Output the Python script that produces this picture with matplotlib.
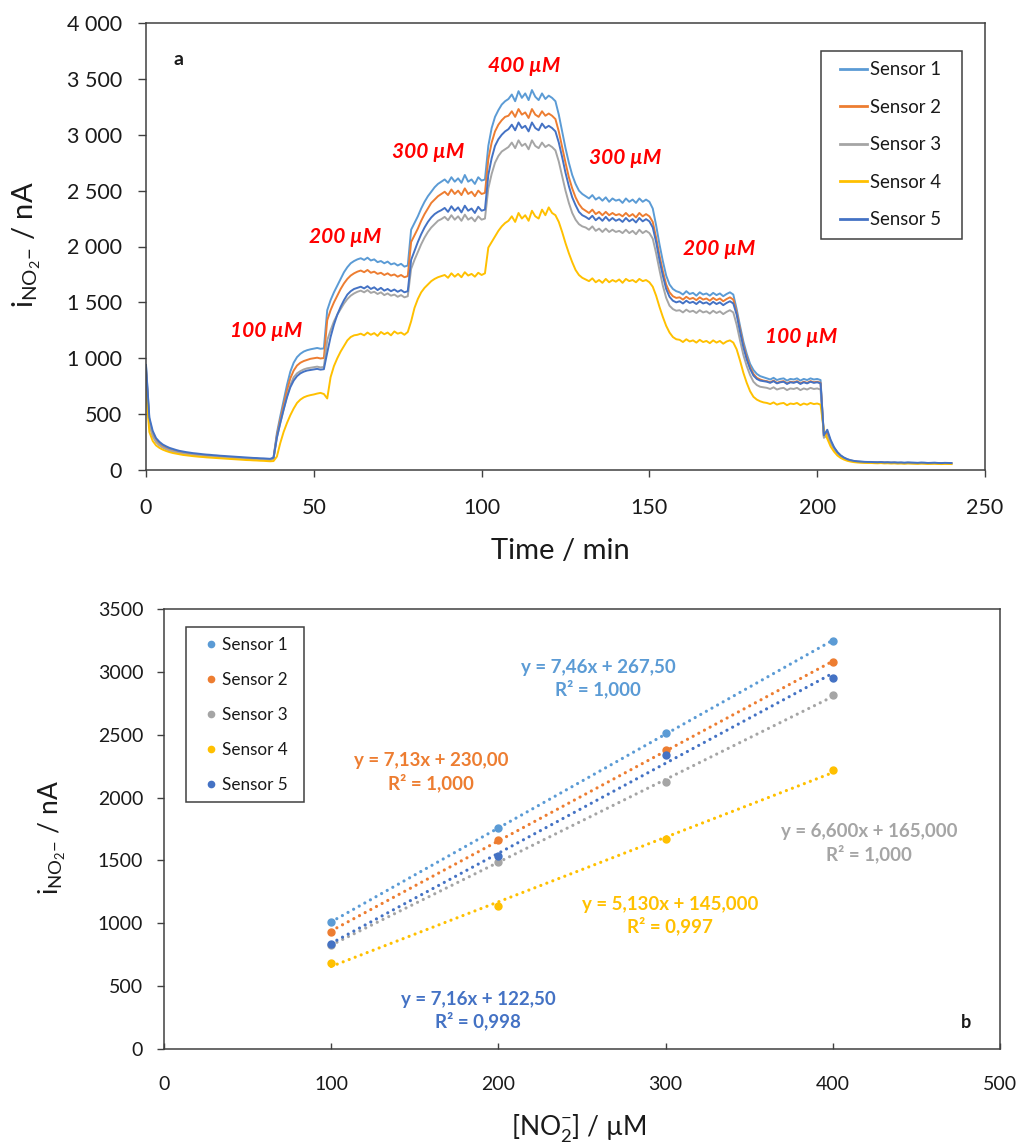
import numpy as np
import matplotlib
matplotlib.use("Agg")
import matplotlib.pyplot as plt
from matplotlib.patches import Rectangle
from matplotlib.ticker import FuncFormatter, MultipleLocator

plt.rcParams['font.family'] = ['Lato', 'DejaVu Sans']
plt.rcParams['mathtext.fontset'] = 'custom'
plt.rcParams['mathtext.rm'] = 'Lato'
plt.rcParams['mathtext.it'] = 'Lato:italic'
plt.rcParams['mathtext.bf'] = 'Lato:bold'

# ---------------- DATA (panel a) ----------------
SENSORS = ["Sensor 1", "Sensor 2", "Sensor 3", "Sensor 4", "Sensor 5"]
COLORS = ["#5B9BD5", "#ED7D31", "#A5A5A5", "#FFC000", "#4472C4"]

TIME_MIN = list(range(0, 241))

S1 = [930, 450, 330, 270, 238, 215, 200, 186, 176, 168,
      160, 155, 150, 146, 142, 139, 136, 133, 131, 128,
      126, 124, 121, 119, 117, 115, 113, 111, 109, 107,
      105, 104, 102, 100, 99, 97, 96, 95,
      110, 330, 480, 620, 760, 880, 960, 1010, 1040, 1060,
      1072, 1080, 1086, 1092, 1085, 1088,
      1430, 1520, 1590, 1650, 1710, 1770, 1815, 1850, 1870, 1885,
      1895, 1880, 1900, 1875, 1885, 1860, 1870, 1850, 1865, 1840, 1850, 1830, 1845, 1820, 1830,
      2150, 2210, 2270, 2340, 2400, 2450, 2490, 2530, 2560, 2580,
      2600, 2570, 2620, 2580, 2610, 2570, 2640, 2580, 2600, 2560, 2620, 2590, 2600,
      2900, 3060, 3160, 3220, 3270, 3300,
      3320, 3360, 3300, 3390, 3330, 3370, 3310, 3400, 3340, 3310, 3370, 3320, 3350, 3330,
      3300, 3180, 3030, 2880, 2750, 2640, 2560, 2500, 2470,
      2450, 2430, 2460, 2420, 2440, 2410, 2440, 2400, 2430, 2410, 2420, 2390, 2430, 2400, 2420, 2390, 2430, 2400, 2420, 2400,
      2340, 2190, 2020, 1870, 1740, 1660, 1620, 1600,
      1590, 1570, 1600, 1575, 1585, 1560, 1590, 1570, 1580, 1560, 1585, 1565, 1580, 1555, 1575, 1590, 1570,
      1440, 1290, 1150, 1040, 950, 895, 860, 840, 830,
      820, 810, 825, 805, 815, 820, 800, 815, 810, 820, 800, 815, 805, 820, 810, 815, 805,
      290, 340, 260, 200, 160, 130, 110, 96, 86, 80,
      76, 74, 72, 70, 71, 69, 68, 70, 67, 68, 66, 67, 65, 66, 64, 66, 65, 64, 63, 65, 64, 62, 63, 64, 62, 61, 63, 62, 61]

S2 = [900, 420, 310, 255, 225, 205, 190, 177, 168, 160,
      153, 148, 143, 139, 135, 132, 129, 126, 124, 121,
      119, 117, 115, 113, 111, 109, 107, 105, 103, 101,
      99, 98, 96, 95, 93, 92, 91, 90,
      105, 310, 450, 580, 710, 820, 890, 935, 960, 975,
      985, 995, 1000, 1005, 998, 1002,
      1340, 1430, 1500, 1560, 1620, 1670, 1710, 1740, 1760, 1775,
      1785, 1770, 1790, 1765, 1775, 1755, 1765, 1745, 1760, 1740, 1750, 1730, 1745, 1725, 1735,
      2040, 2100, 2160, 2230, 2290, 2340, 2390, 2420, 2450, 2470,
      2490, 2460, 2510, 2470, 2500, 2460, 2520, 2470, 2490, 2450, 2500, 2470, 2480,
      2780, 2930, 3030, 3090, 3130, 3160,
      3170, 3210, 3160, 3230, 3180, 3200, 3150, 3230, 3180, 3160, 3210, 3170, 3190, 3170,
      3140, 3030, 2890, 2750, 2620, 2520, 2440, 2380, 2340,
      2320, 2300, 2330, 2290, 2310, 2280, 2310, 2280, 2300, 2280, 2290, 2270, 2300, 2270, 2290, 2260, 2300, 2270, 2290, 2270,
      2220, 2080, 1920, 1780, 1660, 1590, 1555, 1540,
      1545, 1525, 1550, 1530, 1540, 1520, 1545, 1525, 1535, 1515, 1540, 1520, 1535, 1510, 1530, 1545, 1525,
      1410, 1260, 1120, 1010, 920, 860, 825, 810, 800,
      795, 785, 800, 780, 790, 795, 775, 790, 785, 795, 775, 790, 780, 795, 785, 790, 780,
      300, 330, 250, 195, 155, 125, 105, 92, 84, 78,
      74, 72, 70, 69, 69, 67, 66, 68, 65, 66, 64, 65, 63, 64, 62, 64, 63, 62, 61, 63, 62, 60, 61, 62, 60, 59, 61, 60, 59]

S3 = [880, 410, 300, 250, 220, 200, 186, 174, 165, 157,
      150, 145, 140, 136, 133, 130, 127, 124, 122, 119,
      117, 115, 113, 111, 109, 107, 105, 103, 101, 99,
      97, 96, 94, 93, 91, 90, 89, 88,
      100, 290, 420, 540, 660, 760, 830, 865, 885, 900,
      910, 915, 920, 925, 918, 922,
      1160, 1250, 1330, 1390, 1440, 1490, 1530, 1560, 1580, 1595,
      1605, 1590, 1610, 1585, 1595, 1575, 1590, 1565, 1580, 1560, 1570, 1550, 1565, 1545, 1555,
      1800, 1880, 1950, 2020, 2080, 2130, 2170, 2200, 2230, 2245,
      2265, 2235, 2280, 2240, 2270, 2230, 2285, 2240, 2260, 2225, 2270, 2240, 2250,
      2520, 2650, 2750, 2810, 2850, 2870,
      2890, 2930, 2880, 2950, 2900, 2920, 2870, 2950, 2900, 2880, 2930, 2890, 2910, 2890,
      2860, 2760, 2630, 2500, 2390, 2300, 2240, 2200, 2180,
      2170, 2150, 2180, 2140, 2160, 2130, 2160, 2130, 2150, 2130, 2140, 2120, 2150, 2120, 2140, 2110, 2150, 2120, 2140, 2120,
      2070, 1940, 1790, 1650, 1540, 1470, 1440, 1425,
      1430, 1410, 1435, 1415, 1425, 1405, 1430, 1410, 1420, 1400, 1425, 1405, 1420, 1395, 1415, 1430, 1410,
      1300, 1160, 1030, 930, 850, 790, 760, 745, 740,
      735, 725, 740, 720, 730, 735, 715, 730, 725, 735, 715, 730, 720, 735, 725, 730, 720,
      290, 310, 240, 190, 150, 122, 103, 90, 82, 76,
      72, 70, 68, 67, 67, 65, 64, 66, 63, 64, 62, 63, 61, 62, 60, 62, 61, 60, 59, 61, 60, 58, 59, 60, 58, 57, 59, 58, 57]

S4 = [700, 340, 260, 220, 198, 182, 170, 160, 152, 146,
      140, 135, 131, 127, 124, 121, 118, 116, 113, 111,
      109, 107, 105, 103, 101, 99, 97, 95, 93, 91,
      89, 88, 86, 85, 83, 82, 80, 78,
      80, 120, 240, 340, 420, 490, 550, 600, 630, 650,
      662, 670, 676, 684, 690, 680,
      640, 830, 930, 1000, 1060, 1110, 1160, 1190, 1205, 1210,
      1220, 1205, 1230, 1210, 1225, 1200, 1235, 1215, 1230, 1205, 1240, 1220, 1230, 1210, 1235,
      1330, 1450, 1530, 1590, 1630, 1660, 1690, 1710, 1725, 1735,
      1745, 1720, 1760, 1730, 1755, 1725, 1770, 1740, 1755, 1730, 1765, 1745, 1760,
      1990, 2040, 2090, 2140, 2180, 2210,
      2230, 2270, 2220, 2300, 2250, 2280, 2230, 2320, 2270, 2250, 2330, 2280, 2350, 2300,
      2280, 2220, 2130, 2030, 1940, 1860, 1790, 1745, 1720,
      1705, 1690, 1715, 1680, 1700, 1675, 1710, 1680, 1700, 1685, 1705, 1675, 1710, 1690, 1700, 1680, 1710, 1690, 1700, 1680,
      1640, 1560, 1460, 1370, 1290, 1230, 1190, 1170,
      1165, 1145, 1170, 1150, 1160, 1140, 1165, 1145, 1155, 1135, 1160, 1140, 1155, 1130, 1150, 1160, 1140,
      1080, 980, 870, 780, 705, 655, 630, 615, 605,
      600, 590, 605, 585, 595, 600, 580, 595, 590, 600, 580, 595, 585, 600, 590, 595, 585,
      350, 280, 210, 165, 130, 108, 93, 82, 75, 70,
      67, 65, 64, 63, 63, 61, 60, 62, 59, 60, 58, 59, 57, 58, 56, 58, 57, 56, 55, 57, 56, 54, 55, 56, 54, 53, 55, 54, 53]

S5 = [940, 470, 350, 285, 252, 228, 212, 198, 188, 179,
      171, 165, 160, 155, 151, 148, 144, 141, 138, 136,
      133, 131, 128, 126, 124, 122, 120, 118, 116, 114,
      112, 110, 108, 107, 105, 104, 102, 100,
      110, 290, 420, 540, 650, 740, 800, 840, 865, 880,
      890, 895, 900, 905, 898, 902,
      1050, 1190, 1300, 1390, 1460, 1520, 1570, 1600, 1620, 1630,
      1640, 1625, 1645, 1620, 1635, 1610, 1630, 1605, 1620, 1600, 1615, 1595, 1610, 1590, 1600,
      1880, 1960, 2040, 2110, 2170, 2220, 2260, 2290, 2310, 2325,
      2345, 2310, 2360, 2320, 2350, 2305, 2365, 2320, 2340, 2300, 2355, 2320, 2330,
      2640, 2790, 2900, 2960, 3000, 3030,
      3050, 3090, 3040, 3110, 3060, 3080, 3030, 3110, 3060, 3040, 3100, 3060, 3080, 3060,
      3030, 2930, 2800, 2660, 2540, 2440, 2370, 2310, 2280,
      2265, 2245, 2275, 2235, 2260, 2230, 2265, 2230, 2255, 2230, 2245, 2220, 2255, 2225, 2245, 2215, 2255, 2225, 2245, 2225,
      2170, 2040, 1880, 1740, 1620, 1550, 1515, 1500,
      1510, 1490, 1515, 1495, 1505, 1485, 1510, 1490, 1500, 1480, 1505, 1485, 1500, 1475, 1495, 1510, 1490,
      1390, 1240, 1100, 990, 905, 845, 815, 800, 795,
      790, 780, 795, 775, 785, 790, 770, 785, 780, 790, 770, 785, 775, 790, 780, 785, 775,
      310, 360, 270, 205, 160, 130, 110, 96, 87, 81,
      77, 75, 73, 72, 72, 70, 69, 71, 68, 69, 67, 68, 66, 67, 65, 67, 66, 65, 64, 66, 65, 63, 64, 65, 63, 62, 64, 63, 62]

STEP_LABELS = ["100 µM", "200 µM", "300 µM", "400 µM", "300 µM", "200 µM", "100 µM"]
STEP_LABEL_T = [35.7, 59.2, 84.1, 112.8, 142.9, 170.7, 195.2]
STEP_LABEL_Y = [1244, 2085, 2846, 3615, 2792, 1978, 1193]

# ---------------- DATA (panel b) ----------------
CONC_UM = [100, 200, 300, 400]
B1 = [1010, 1755, 2515, 3245]
B2 = [930, 1665, 2380, 3075]
B3 = [830, 1490, 2125, 2815]
B4 = [685, 1135, 1670, 2220]
B5 = [835, 1535, 2335, 2955]

EQ_TEXT = ["y = 7,46x + 267,50\nR² = 1,000",
           "y = 7,13x + 230,00\nR² = 1,000",
           "y = 6,600x + 165,000\nR² = 1,000",
           "y = 5,130x + 145,000\nR² = 0,997",
           "y = 7,16x + 122,50\nR² = 0,998"]
EQ_X = [259.6, 159.7, 421.7, 302.6, 187.8]
EQ_Y = [2948, 2203, 1636, 1062, 306]

series_a = [S1, S2, S3, S4, S5]
series_b = [B1, B2, B3, B4, B5]
for s in series_a:
    assert len(s) == len(TIME_MIN), len(s)

W, H = 1021, 1145
fig = plt.figure(figsize=(W / 100, H / 100), dpi=100)

def fx(px):
    return px / W

def fy(py):
    return 1 - py / H

AX_COL = "#404040"
TXT_COL = "#1a1a1a"

# ---------------- Panel a ----------------
ax1 = fig.add_axes([fx(146), fy(470), (985 - 146) / W, (470 - 23) / H])
for name, col, vals in zip(SENSORS, COLORS, series_a):
    ax1.plot(TIME_MIN, vals, color=col, lw=1.4, label=name, solid_joinstyle='round')
ax1.set_xlim(0, 250)
ax1.set_ylim(0, 4000)
ax1.xaxis.set_major_locator(MultipleLocator(50))
ax1.yaxis.set_major_locator(MultipleLocator(500))
ax1.yaxis.set_major_formatter(FuncFormatter(lambda v, p: f"{int(v):,}".replace(",", " ")))
ax1.tick_params(axis='y', direction='out', length=5.8, width=1, pad=11.5, labelsize=15.5,
                color=AX_COL, labelcolor=TXT_COL)
ax1.tick_params(axis='x', direction='out', length=5, width=1, pad=15, labelsize=15.5,
                color=AX_COL, labelcolor=TXT_COL)
for sp in ax1.spines.values():
    sp.set_color(AX_COL)
    sp.set_linewidth(1.1)

for lab, t, y in zip(STEP_LABELS, STEP_LABEL_T, STEP_LABEL_Y):
    ax1.text(t, y, lab, color="#FF0000", fontsize=15, fontweight='bold', fontstyle='italic',
             ha='center', va='center')
ax1.text(9.8, 3669, "a", fontsize=14, fontweight='bold', color=TXT_COL, ha='center', va='center')

leg1 = ax1.legend(loc='center left', bbox_to_anchor=(fx(840), fy(144.7)), bbox_transform=fig.transFigure,
                  frameon=False, fontsize=13.4, borderpad=0, borderaxespad=0,
                  handlelength=1.43, handletextpad=0.16, labelspacing=1.1)
for txt in leg1.get_texts():
    txt.set_color(TXT_COL)
for ln in leg1.get_lines():
    ln.set_linewidth(2)
fig.patches.append(Rectangle((fx(820.7), fy(239)), 141 / W, 188 / H, transform=fig.transFigure,
                             fill=False, ec=AX_COL, lw=1.1))

fig.text(fx(560), fy(551), "Time / min", fontsize=21, ha='center', va='center', color=TXT_COL)
fig.text(fx(27), fy(245), r"$\mathregular{i_{NO_2{-}}}$ / nA", fontsize=21, rotation=90,
         ha='center', va='center', color=TXT_COL)

# ---------------- Panel b ----------------
ax2 = fig.add_axes([fx(164), fy(1049), (1000 - 164) / W, (1049 - 609) / H])
for name, col, vals in zip(SENSORS, COLORS, series_b):
    ax2.plot(CONC_UM, vals, 'o', color=col, ms=5, label=name, zorder=3)
    k, b = np.polyfit(CONC_UM, vals, 1)
    xs = np.array([min(CONC_UM), max(CONC_UM)])
    ax2.plot(xs, k * xs + b, color=col, lw=2.3, linestyle=(0, (0.01, 2.0)),
             dash_capstyle='round', zorder=2)
for txt, col, x, y in zip(EQ_TEXT, COLORS, EQ_X, EQ_Y):
    ax2.text(x, y, txt, color=col, fontsize=13.5, fontweight='bold', ha='center', va='center',
             multialignment='center', linespacing=1.25)
ax2.text(479.6, 207, "b", fontsize=13, fontweight='bold', color=TXT_COL, ha='center', va='center')

ax2.set_xlim(0, 500)
ax2.set_ylim(0, 3500)
ax2.xaxis.set_major_locator(MultipleLocator(100))
ax2.yaxis.set_major_locator(MultipleLocator(500))
ax2.tick_params(axis='y', direction='out', length=5, width=1, pad=10, labelsize=14,
                color=AX_COL, labelcolor=TXT_COL)
ax2.tick_params(axis='x', direction='in', length=4.5, width=1, pad=19.5, labelsize=14,
                color=AX_COL, labelcolor=TXT_COL)
for sp in ax2.spines.values():
    sp.set_color(AX_COL)
    sp.set_linewidth(1.1)

leg2 = ax2.legend(loc='center left', bbox_to_anchor=(fx(205.6), fy(714.6)), bbox_transform=fig.transFigure,
                  frameon=False, fontsize=12.3, borderpad=0, borderaxespad=0, numpoints=1,
                  handlelength=0.6, handletextpad=0.35, labelspacing=1.11, markerscale=0.9)
for txt in leg2.get_texts():
    txt.set_color(TXT_COL)
fig.patches.append(Rectangle((fx(186), fy(801.8)), (304 - 186) / W, (801.8 - 626.8) / H,
                             transform=fig.transFigure, fill=False, ec=AX_COL, lw=1.1))

fig.text(fx(579), fy(1128), r"$\mathregular{[NO_2^{-}]}$ / µM", fontsize=19, ha='center', va='center',
         color=TXT_COL)
fig.text(fx(52), fy(838), r"$\mathregular{i_{NO_2{-}}}$ / nA", fontsize=19, rotation=90,
         ha='center', va='center', color=TXT_COL)

fig.savefig("out.png", dpi=100)
